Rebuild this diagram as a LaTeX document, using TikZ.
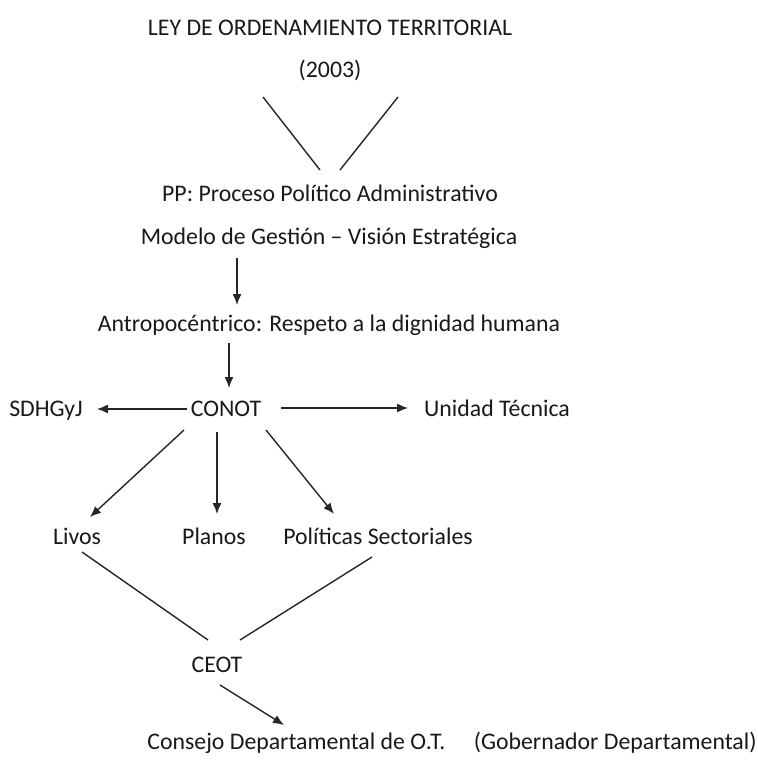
\documentclass[tikz,border=0pt]{standalone}
\usepackage{fontspec}
\setmainfont{Carlito}
\usetikzlibrary{arrows.meta}
\begin{document}
\begin{tikzpicture}[x=1pt,y=-1pt,
  lbl/.style={inner sep=0pt,text height=20pt,text depth=5pt,font=\fontsize{23.8}{26}\selectfont,text=black!90},
  ln/.style={line width=1.4pt,draw=black!85},
  arr/.style={ln,-{Latex[length=11pt,width=9pt]}}]
\useasboundingbox[fill=white] (0,0) rectangle (758,761);
\node[lbl] (ley) at (330,28) {LEY DE ORDENAMIENTO TERRITORIAL};
\node[lbl] (y2003) at (330,70) {(2003)};
\node[lbl] (pp) at (330,194) {PP: Proceso Político Administrativo};
\node[lbl] (modelo) at (329,237) {Modelo de Gestión – Visión Estratégica};
\node[lbl] (antro) at (329,324) {Antropocéntrico: Respeto a la dignidad humana};
\node[lbl] (conot) at (226,409) {CONOT};
\node[lbl] (sdh) at (46,409) {SDHGyJ};
\node[lbl] (unidad) at (497,409) {Unidad Técnica};
\node[lbl] (livos) at (77,537) {Livos};
\node[lbl] (planos) at (214,537) {Planos};
\node[lbl] (politicas) at (378,537) {Políticas Sectoriales};
\node[lbl] (ceot) at (217,665) {CEOT};
\node[lbl] (consejo) at (452,742) {Consejo Departamental de O.T.\hspace{1.2em}(Gobernador Departamental)};
% V under the title
\draw[ln] ([shift={(-67,27)}]y2003.center) -- ([shift={(-10,-24)}]pp.center);
\draw[ln] ([shift={(68,27)}]y2003.center) -- ([shift={(10,-24)}]pp.center);
% arrows
\draw[arr] ([shift={(-92,21)}]modelo.center) -- ([shift={(-92,-19)}]antro.center);
\draw[arr] ([shift={(-100,19)}]antro.center) -- ([shift={(3,-21)}]conot.center);
\draw[arr] ([shift={(-39,0)}]conot.center) -- ([shift={(51,0)}]sdh.center);
\draw[arr] ([shift={(55,-1)}]conot.center) -- ([shift={(-89,-1)}]unidad.center);
\draw[arr] ([shift={(-42,21)}]conot.center) -- ([shift={(13,-20)}]livos.center);
\draw[arr] ([shift={(-9,23)}]conot.center) -- ([shift={(3,-23)}]planos.center);
\draw[arr] ([shift={(40,21)}]conot.center) -- ([shift={(-44,-23)}]politicas.center);
% lines to CEOT
\draw[ln] ([shift={(5,15)}]livos.center) -- ([shift={(-9,-25)}]ceot.center);
\draw[ln] ([shift={(-6,20)}]politicas.center) -- ([shift={(23,-25)}]ceot.center);
\draw[arr] ([shift={(3,20)}]ceot.center) -- ([shift={(-168,-17)}]consejo.center);
\end{tikzpicture}
\end{document}
